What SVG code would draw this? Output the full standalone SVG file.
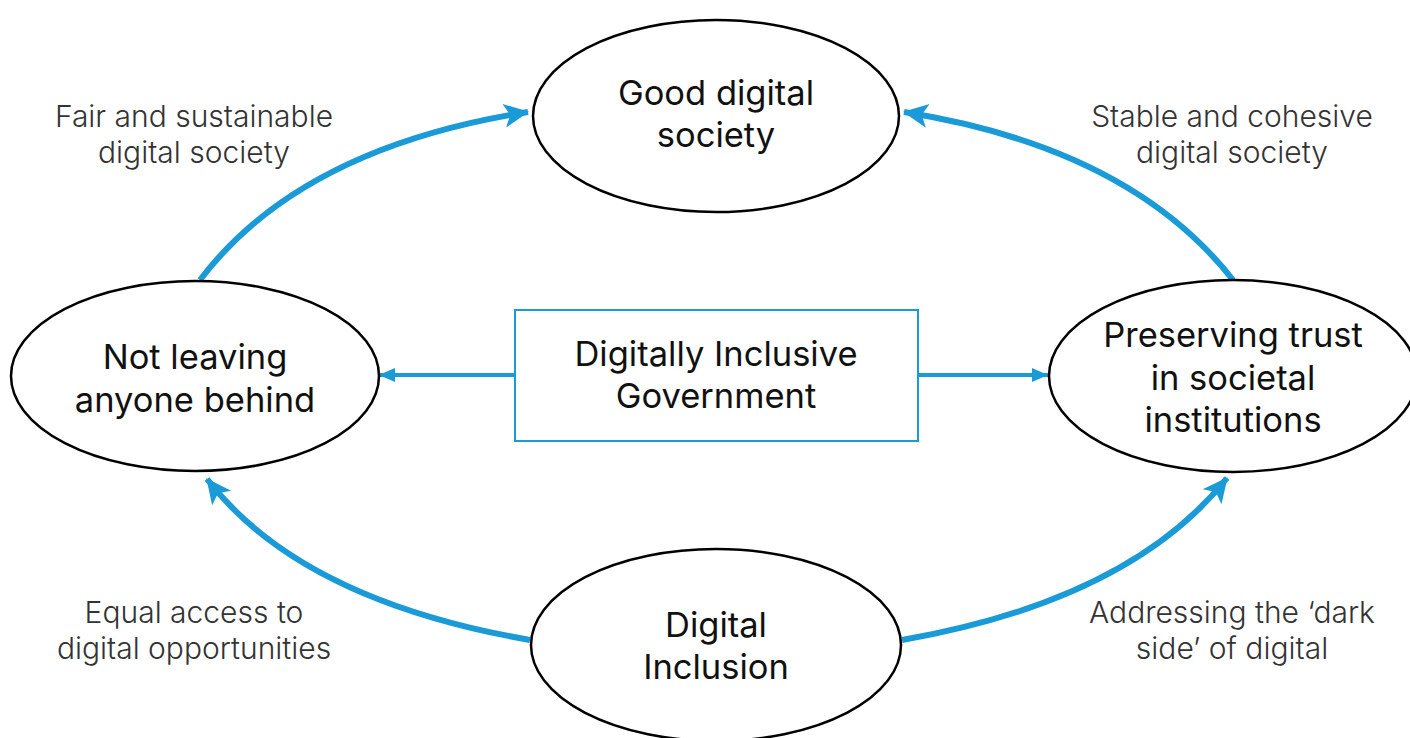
<svg xmlns="http://www.w3.org/2000/svg" width="1410" height="738" viewBox="0 0 1410 738">
<defs>
<style>
.node{fill:#fff;stroke:#000;stroke-width:2.5}
.box{fill:#fff;stroke:#1a9bd7;stroke-width:2}
.t{font-family:Inter,"Open Sans","Liberation Sans",sans-serif;font-size:34.5px;fill:#111;text-anchor:middle}
.l{font-family:Inter,"Open Sans","Liberation Sans",sans-serif;font-size:30px;font-weight:300;fill:#333;text-anchor:middle}
.c{fill:none;stroke:#1a9bd7;stroke-width:6}
.h{fill:none;stroke:#1a9bd7;stroke-width:4}
</style>
<marker id="a" markerUnits="userSpaceOnUse" markerWidth="30" markerHeight="30" viewBox="0 0 30 30" refX="27" refY="15" orient="auto"><path d="M3,3 L28,15 L3,27 L9,15 Z" fill="#1a9bd7"/></marker>
<marker id="b" markerUnits="userSpaceOnUse" markerWidth="20" markerHeight="20" viewBox="0 0 20 20" refX="18" refY="10" orient="auto"><path d="M2,3 L18,10 L2,17 Z" fill="#1a9bd7"/></marker>
</defs>
<g id="connectors">
<path class="c" d="M200,280 Q300,148 528,112" marker-end="url(#a)"/>
<path class="c" d="M1233,280 Q1130,148 904,112" marker-end="url(#a)"/>
<path class="c" d="M530,640 Q300,600 207,479" marker-end="url(#a)"/>
<path class="c" d="M902,640 Q1130,600 1227,478" marker-end="url(#a)"/>
<path class="h" d="M515,375 L379,375" marker-end="url(#b)"/>
<path class="h" d="M918,375 L1048,375" marker-end="url(#b)"/>
</g>
<g id="good">
<ellipse class="node" cx="716" cy="116" rx="183" ry="96"/>
<text class="t" x="716" y="105">Good digital</text>
<text class="t" x="716" y="147">society</text>
</g>
<g id="behind">
<ellipse class="node" cx="195" cy="376" rx="184" ry="95"/>
<text class="t" x="195" y="369">Not leaving</text>
<text class="t" x="195" y="412">anyone behind</text>
</g>
<g id="trust">
<ellipse class="node" cx="1233" cy="376" rx="184" ry="96"/>
<text class="t" x="1233" y="347">Preserving trust</text>
<text class="t" x="1233" y="390">in societal</text>
<text class="t" x="1233" y="432">institutions</text>
</g>
<g id="gov">
<rect class="box" x="515" y="310" width="403" height="131"/>
<text class="t" x="716" y="366">Digitally Inclusive</text>
<text class="t" x="716" y="408">Government</text>
</g>
<g id="inclusion">
<ellipse class="node" cx="716" cy="645" rx="185" ry="96"/>
<text class="t" x="716" y="637">Digital</text>
<text class="t" x="716" y="679">Inclusion</text>
</g>
<g id="labels">
<text class="l" x="194" y="127">Fair and sustainable</text>
<text class="l" x="194" y="163">digital society</text>
<text class="l" x="1232" y="127">Stable and cohesive</text>
<text class="l" x="1232" y="163">digital society</text>
<text class="l" x="194" y="623">Equal access to</text>
<text class="l" x="194" y="659">digital opportunities</text>
<text class="l" x="1232" y="623">Addressing the ‘dark</text>
<text class="l" x="1232" y="659">side’ of digital</text>
</g>
</svg>
